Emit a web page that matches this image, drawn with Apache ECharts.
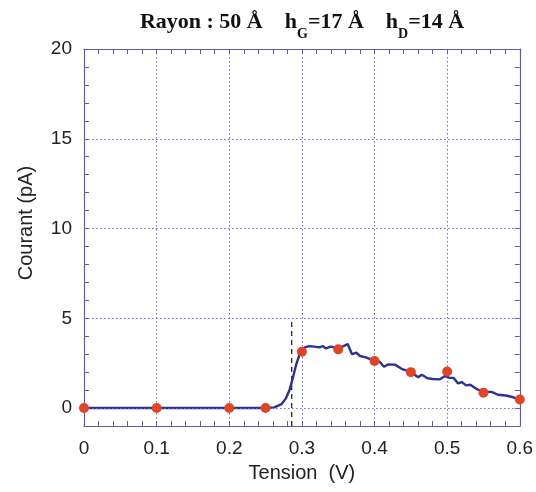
<!DOCTYPE html>
<html>
<head>
<meta charset="utf-8">
<script src="https://cdn.jsdelivr.net/npm/echarts@6/dist/echarts.min.js"></script>
<style>
html,body{margin:0;padding:0;background:#fff;}
#chart{width:536px;height:492px;}
</style>
</head>
<body>
<div id="chart"></div>
<script>
// ---- data ----
var xTicks = [0, 0.1, 0.2, 0.3, 0.4, 0.5, 0.6];
var yTickLabels = [0, 5, 10, 15, 20];
var gridY = [0, 5, 10, 15];

var curveX = [0, 0.25, 0.262, 0.272, 0.278, 0.283, 0.288, 0.292, 0.298, 0.304, 0.310, 0.317, 0.324, 0.329, 0.333, 0.340, 0.347, 0.356, 0.363, 0.369, 0.375, 0.380, 0.388, 0.395, 0.401, 0.407, 0.413, 0.419, 0.428, 0.439, 0.450, 0.460, 0.465, 0.473, 0.480, 0.490, 0.497, 0.503, 0.509, 0.515, 0.520, 0.526, 0.532, 0.540, 0.547, 0.553, 0.562, 0.570, 0.581, 0.591, 0.600];
var curveY = [0, 0, 0.04, 0.22, 0.54, 1.0, 1.75, 2.4, 3.14, 3.38, 3.45, 3.42, 3.38, 3.45, 3.32, 3.42, 3.36, 3.42, 3.57, 3.0, 3.08, 2.9, 2.82, 2.71, 2.58, 2.58, 2.3, 2.43, 2.42, 2.15, 2.02, 1.72, 1.86, 1.66, 1.62, 1.6, 1.78, 1.69, 1.68, 1.37, 1.45, 1.26, 1.30, 1.07, 0.95, 0.91, 0.89, 0.74, 0.70, 0.60, 0.46];

var dotX = [0, 0.1, 0.2, 0.25, 0.3, 0.35, 0.4, 0.45, 0.5, 0.55, 0.6];
var dotY = [0, 0, 0, 0, 3.14, 3.27, 2.62, 2.0, 2.04, 0.85, 0.48];

var thresholdX = 0.286;
var thresholdY = [-1, 5];

// ---- build ----
function pairs(xs, ys) { return xs.map(function (x, i) { return [x, ys[i]]; }); }

var axisColor = '#5b5ba6';
var gridColor = '#6a6ad6';
var labelFont = 'Liberation Sans';

var chart = echarts.init(document.getElementById('chart'), null, {renderer: 'canvas'});

function xAxisCfg(pos, labels) {
  return {
    type: 'value', position: pos, min: 0, max: 0.6, interval: 0.1,
    axisLine: {show: true, onZero: false, lineStyle: {color: axisColor, width: 1.2}},
    axisTick: {show: true, inside: true, length: 5, lineStyle: {color: axisColor}},
    minorTick: {show: true, splitNumber: 5, length: 5, lineStyle: {color: axisColor}},
    splitLine: {show: labels, lineStyle: {color: gridColor, type: [1.5, 2.5], width: 1}},
    axisLabel: labels ? {show: true, fontSize: 19, color: '#222', fontFamily: labelFont, margin: 13,
      formatter: function (v) { return xTicks.indexOf(Math.round(v * 10) / 10) >= 0 ? String(Math.round(v * 10) / 10) : ''; }} : {show: false},
    name: labels ? 'Tension  (V)' : '',
    nameLocation: 'middle', nameGap: 37,
    nameTextStyle: {fontSize: 20, color: '#222', fontFamily: labelFont}
  };
}
function yAxisCfg(pos, labels) {
  return {
    type: 'value', position: pos, min: -1, max: 20, interval: 1,
    axisLine: {show: true, onZero: false, lineStyle: {color: axisColor, width: 1.2}},
    axisTick: {show: true, inside: true, length: 5, lineStyle: {color: axisColor}},
    splitLine: {show: false},
    axisLabel: labels ? {show: true, fontSize: 19, color: '#222', fontFamily: labelFont, margin: 12,
      formatter: function (v) { return yTickLabels.indexOf(v) >= 0 ? String(v) : ''; }} : {show: false}
  };
}

var option = {
  animation: false,
  backgroundColor: '#fff',
  grid: {left: 84, right: 15, top: 49, bottom: 66, containLabel: false},
  xAxis: [xAxisCfg('bottom', true), xAxisCfg('top', false)],
  yAxis: [yAxisCfg('left', true), yAxisCfg('right', false)],
  graphic: [
    {
      type: 'text', x: 302, y: 11, z: 10,
      style: {
        text: '{m|Rayon : 50 Å    h}{s|G}{m|=17 Å    h}{s|D}{m|=14 Å}',
        align: 'center', verticalAlign: 'top',
        rich: {
          m: {fontFamily: 'Liberation Serif', fontWeight: 'bold', fontSize: 22, lineHeight: 26, verticalAlign: 'top', fill: '#111', color: '#111'},
          s: {fontFamily: 'Liberation Serif', fontWeight: 'bold', fontSize: 14, lineHeight: 15, padding: [16, 0, 0, 0], verticalAlign: 'top', fill: '#111', color: '#111'}
        }
      }
    },
    {
      type: 'text', x: 26, y: 223, rotation: Math.PI / 2,
      style: {text: 'Courant (pA)', align: 'center', verticalAlign: 'middle', fontSize: 20, fontFamily: labelFont, fill: '#222'}
    }
  ],
  series: [
    {
      type: 'line', name: 'grid', data: [], silent: true,
      markLine: {
        silent: true, symbol: ['none', 'none'], label: {show: false},
        lineStyle: {color: gridColor, type: [1.5, 2.5], width: 1},
        data: gridY.map(function (v) { return {yAxis: v}; })
      }
    },
    {
      type: 'line', name: 'seuil', data: pairs([thresholdX, thresholdX], thresholdY),
      symbol: 'none', silent: true, z: 3,
      lineStyle: {color: '#111', width: 1.2, type: [5, 4]}
    },
    {
      type: 'line', name: 'courbe', data: pairs(curveX, curveY),
      symbol: 'none', z: 4,
      lineStyle: {color: '#2e3192', width: 2.4}
    },
    {
      type: 'scatter', name: 'points', data: pairs(dotX, dotY),
      symbolSize: 10, z: 5,
      itemStyle: {color: '#e0452a', opacity: 1}
    }
  ]
};
chart.setOption(option);
</script>
</body>
</html>
